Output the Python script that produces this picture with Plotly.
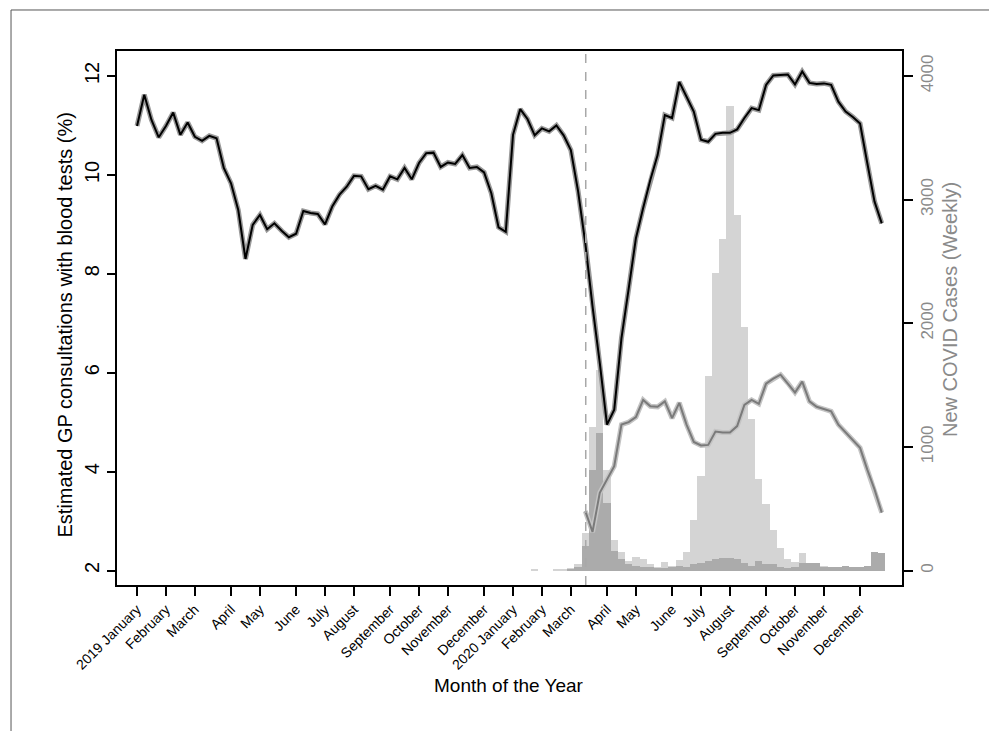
import plotly.graph_objects as go

# ---- data ----
weeks = list(range(104))  # weekly index from first week of Jan 2019

gp_blood_tests = [
    10.99, 11.62, 11.11, 10.76, 10.99, 11.26, 10.81, 11.06, 10.77, 10.69,
    10.79, 10.74, 10.14, 9.83, 9.29, 8.30, 8.99, 9.19, 8.90, 9.02,
    8.87, 8.74, 8.81, 9.27, 9.23, 9.21, 9.00, 9.36, 9.60, 9.76,
    9.98, 9.97, 9.71, 9.78, 9.70, 9.97, 9.91, 10.14, 9.91, 10.24,
    10.44, 10.45, 10.16, 10.25, 10.22, 10.40, 10.14, 10.16, 10.05, 9.63,
    8.94, 8.85, 10.81, 11.33, 11.13, 10.80, 10.94, 10.88, 11.00, 10.80,
    10.50, 9.67, 8.62, 7.34, 6.20, 4.95, 5.25, 6.70, 7.70, 8.72,
    9.33, 9.90, 10.40, 11.21, 11.15, 11.88, 11.58, 11.28, 10.71, 10.67,
    10.83, 10.85, 10.85, 10.92, 11.15, 11.35, 11.31, 11.82, 12.01, 12.02,
    12.03, 11.83, 12.09, 11.86, 11.84, 11.85, 11.82, 11.48, 11.28, 11.17,
    11.04, 10.24, 9.46, 9.02,
]

grey_weeks = list(range(62, 104))
gp_blood_tests_2 = [
    3.20, 2.78, 3.57, 3.84, 4.11, 4.95, 5.00, 5.10, 5.45, 5.32,
    5.31, 5.42, 5.08, 5.39, 4.95, 4.60, 4.53, 4.54, 4.81, 4.79,
    4.79, 4.92, 5.35, 5.45, 5.37, 5.78, 5.88, 5.96, 5.79, 5.60,
    5.82, 5.42, 5.31, 5.27, 5.22, 4.95, 4.79, 4.65, 4.48, 4.04,
    3.64, 3.17,
]

case_weeks = list(range(52, 104))
cases_light = [
    0, 0, 0, 5, 0, 0, 5, 10, 20, 50,
    302, 1163, 1619, 810, 245, 150, 81, 113, 94, 54,
    32, 67, 40, 86, 148, 405, 766, 1575, 2405, 2683,
    3757, 2877, 1969, 1228, 743, 538, 330, 180, 90, 72,
    142, 60, 50, 35, 30, 25, 30, 30, 25, 30,
    60, 50,
]
cases_dark = [
    0, 0, 0, 0, 0, 0, 0, 0, 10, 30,
    202, 810, 1110, 548, 162, 94, 54, 40, 32, 25,
    20, 20, 25, 35, 30, 49, 65, 81, 94, 105,
    98, 90, 60, 35, 81, 55, 50, 30, 22, 32,
    62, 62, 59, 27, 27, 27, 40, 32, 27, 40,
    151, 138,
]

tick_weeks = [0, 4, 8, 13, 17, 22, 26, 30, 35, 39, 43, 48,
              52, 56, 60, 65, 69, 74, 78, 82, 87, 91, 95, 100]
tick_labels = ["2019 January", "February", "March", "April", "May", "June",
               "July", "August", "September", "October", "November", "December",
               "2020 January", "February", "March", "April", "May", "June",
               "July", "August", "September", "October", "November", "December"]

lockdown_week = 62.06

FONT = "Liberation Sans, Arial, sans-serif"

fig = go.Figure()

# bars on primary (right) axis, drawn first
fig.add_trace(go.Bar(x=case_weeks, y=cases_light, marker=dict(color="#d4d4d4", line=dict(width=0)),
                     yaxis="y", showlegend=False, width=1))
fig.add_trace(go.Bar(x=case_weeks, y=cases_dark, marker=dict(color="#ababab", line=dict(width=0)),
                     yaxis="y", showlegend=False, width=1))

# lines on left axis (y2)
fig.add_trace(go.Scatter(x=weeks, y=gp_blood_tests, mode="lines",
                         line=dict(color="#9a9a9a", width=5), yaxis="y2", showlegend=False,
                         hoverinfo="skip"))
fig.add_trace(go.Scatter(x=weeks, y=gp_blood_tests, mode="lines",
                         line=dict(color="#000000", width=2), yaxis="y2", showlegend=False))
fig.add_trace(go.Scatter(x=grey_weeks, y=gp_blood_tests_2, mode="lines",
                         line=dict(color="#c4c4c4", width=5), yaxis="y2", showlegend=False,
                         hoverinfo="skip"))
fig.add_trace(go.Scatter(x=grey_weeks, y=gp_blood_tests_2, mode="lines",
                         line=dict(color="#7a7a7a", width=2), yaxis="y2", showlegend=False))

# page body has an 8px default margin: figure sits at (8, 8)
fig.update_layout(
    width=989, height=723,
    margin=dict(l=109, r=95, t=43, b=146, autoexpand=False),
    paper_bgcolor="white", plot_bgcolor="white",
    barmode="overlay", bargap=0,
    font=dict(family=FONT, color="black"),
    xaxis=dict(
        range=[-2.77, 105.8], tickmode="array", tickvals=tick_weeks, ticktext=tick_labels,
        tickangle=-45, ticks="outside", ticklen=9, tickwidth=1.5, tickcolor="black",
        showline=True, linecolor="black", linewidth=1.5, mirror=True,
        showgrid=False, zeroline=False, tickfont=dict(size=14, family=FONT),
        automargin=False,
    ),
    yaxis=dict(
        side="right", range=[-117, 4202], tickvals=[0, 1000, 2000, 3000, 4000],
        tickangle=-90, ticks="outside", ticklen=9, tickwidth=1.5, tickcolor="black",
        showline=True, linecolor="black", linewidth=1.5,
        showgrid=False, zeroline=False, tickfont=dict(size=17, color="#8a8a8a", family=FONT),
        automargin=False,
    ),
    yaxis2=dict(
        overlaying="y", side="left", range=[1.707, 12.505], tickvals=[2, 4, 6, 8, 10, 12],
        tickangle=-90, ticks="outside", ticklen=8, tickwidth=1.5, tickcolor="black",
        showline=True, linecolor="black", linewidth=1.5,
        showgrid=False, zeroline=False, tickfont=dict(size=20, family=FONT),
        automargin=False,
    ),
    shapes=[
        dict(type="line", xref="x", yref="paper", x0=lockdown_week, x1=lockdown_week, y0=0, y1=1,
             line=dict(color="#a8a8a8", width=1.5, dash="dash"), layer="above"),
        dict(type="rect", xref="paper", yref="paper", x0=-0.135, x1=1.3, y0=-0.4, y1=1.0768,
             line=dict(color="#555555", width=1), layer="below"),
    ],
    annotations=[
        dict(text="Estimated GP consultations with blood tests (%)", xref="paper", yref="paper",
             x=(65 - 117) / 785, y=0.486, textangle=-90, showarrow=False,
             font=dict(size=20, family=FONT, color="black"), xanchor="center", yanchor="middle"),
        dict(text="New COVID Cases (Weekly)", xref="paper", yref="paper",
             x=(950 - 117) / 785, y=0.515, textangle=-90, showarrow=False,
             font=dict(size=20, family=FONT, color="#8a8a8a"), xanchor="center", yanchor="middle"),
        dict(text="Month of the Year", xref="paper", yref="paper",
             x=0.499, y=(585 - 685) / 534, showarrow=False,
             font=dict(size=19, family=FONT, color="black"), xanchor="center", yanchor="middle"),
    ],
)

fig.write_html("out.html")
